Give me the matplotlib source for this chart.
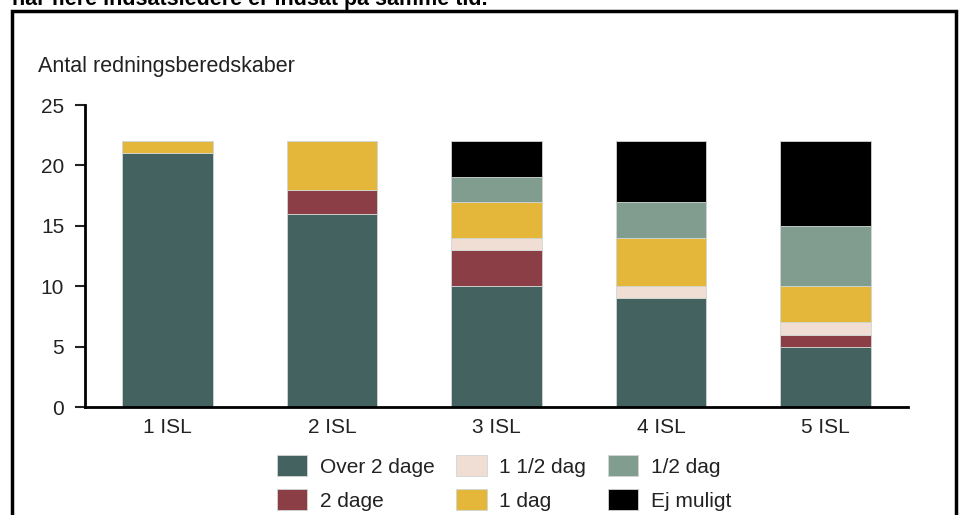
import matplotlib.pyplot as plt
from matplotlib.patches import Rectangle

plt.rcParams['font.family'] = ['Liberation Sans', 'DejaVu Sans']

categories = ['1 ISL', '2 ISL', '3 ISL', '4 ISL', '5 ISL']
series_names = ['Over 2 dage', '2 dage', '1 1/2 dag', '1 dag', '1/2 dag', 'Ej muligt']
over_2_dage = [21, 16, 10, 9, 5]
to_dage = [0, 2, 3, 0, 1]
halvanden_dag = [0, 0, 1, 1, 1]
en_dag = [1, 4, 3, 4, 3]
halv_dag = [0, 0, 2, 3, 5]
ej_muligt = [0, 0, 3, 5, 7]
series = [over_2_dage, to_dage, halvanden_dag, en_dag, halv_dag, ej_muligt]
colors = ['#436260', '#8b3e46', '#f0ddd3', '#e4b73a', '#819d90', '#000000']

fig = plt.figure(figsize=(9.59, 5.15), dpi=100)
ax = fig.add_axes([0.0886, 0.2097, 0.858, 0.5864])

x = range(len(categories))
bottom = [0] * len(categories)
for name, vals, col in zip(series_names, series, colors):
    ax.bar(x, vals, 0.55, bottom=bottom, color=col, label=name,
           edgecolor='#d0d6d4', linewidth=0.6)
    bottom = [b + v for b, v in zip(bottom, vals)]

ax.set_xlim(-0.5, 4.5)
ax.set_ylim(0, 25)
ax.set_yticks([0, 5, 10, 15, 20, 25])
ax.set_xticks(list(x))
ax.set_xticklabels(categories)
ax.tick_params(axis='y', length=7, width=1.5, labelsize=15, pad=8, colors='#222222')
ax.tick_params(axis='x', length=0, labelsize=15, pad=8, colors='#222222')
for s in ['top', 'right']:
    ax.spines[s].set_visible(False)
for s in ['left', 'bottom']:
    ax.spines[s].set_linewidth(2)
    ax.spines[s].set_color('black')

fig.text(38 / 959, 1 - 72 / 515, 'Antal redningsberedskaber', fontsize=15.5,
         ha='left', va='baseline', color='#222222')

fig.text(12 / 959, 1 - 5 / 515, 'når flere indsatsledere er indsat på samme tid.',
         fontsize=15.5, fontweight='bold', ha='left', va='baseline')

fig.patches.append(Rectangle((12 / 959, -0.05), 944 / 959, 1.05 - 11 / 515,
                             transform=fig.transFigure, fill=False,
                             edgecolor='black', linewidth=2.5))

handles, labels = ax.get_legend_handles_labels()
fig.legend(handles, labels, ncol=3, loc='center', bbox_to_anchor=(0.5255, 0.062),
           frameon=False, fontsize=15, handlelength=1.45, handleheight=1.15,
           columnspacing=1.05, labelspacing=0.6, handletextpad=0.6,
           labelcolor='#222222')

fig.savefig('out.png', dpi=100)
